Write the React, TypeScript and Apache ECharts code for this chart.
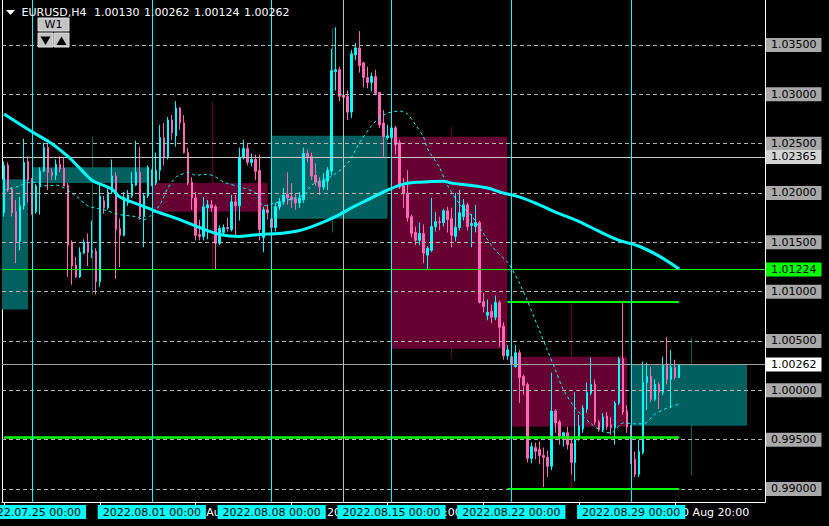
import React, { useEffect, useRef } from "react";
import * as echarts from "echarts";

const FONT = "DejaVu Sans";
const BULL = "#00ffff";
const BEAR = "#ff69b4";
const WEEK_BULL = "#006060";
const WEEK_BEAR = "#660033";
const GRID_GRAY = "#b4b4b4";

const symbolName = "EURUSD,H4";
const firstBarTime = Date.UTC(2022, 6, 21, 20);
const slotCount = 191;
const labelEvery = 24;
const barsPerWeek = 30;
const yMin = 0.98868;
const yMax = 1.03956;

// H4 bars: [open, close, low, high]
const barsWeek0718 = [
  [1.0180, 1.0228, 1.0176, 1.0232], [1.0228, 1.0203, 1.0201, 1.0231], [1.0204, 1.0180, 1.0176, 1.0206],
  [1.0181, 1.0151, 1.0129, 1.0193], [1.0151, 1.0187, 1.0142, 1.0196], [1.0187, 1.0231, 1.0183, 1.0255],
  [1.0232, 1.0213, 1.0190, 1.0237],
];
const barsWeek0725 = [
  [1.0210, 1.0181, 1.0178, 1.0215], [1.0181, 1.0207, 1.0179, 1.0209], [1.0206, 1.0222, 1.0178, 1.0226],
  [1.0222, 1.0246, 1.0221, 1.0251], [1.0246, 1.0221, 1.0203, 1.0251], [1.0221, 1.0218, 1.0213, 1.0225],
  [1.0218, 1.0229, 1.0213, 1.0234], [1.0229, 1.0224, 1.0221, 1.0237], [1.0225, 1.0207, 1.0207, 1.0236],
  [1.0208, 1.0147, 1.0115, 1.0210], [1.0149, 1.0126, 1.0107, 1.0152], [1.0127, 1.0115, 1.0114, 1.0135],
  [1.0115, 1.0140, 1.0114, 1.0145], [1.0139, 1.0150, 1.0138, 1.0153], [1.0150, 1.0140, 1.0126, 1.0159],
  [1.0140, 1.0141, 1.0134, 1.0172], [1.0141, 1.0110, 1.0097, 1.0144], [1.0110, 1.0197, 1.0105, 1.0210],
  [1.0192, 1.0185, 1.0179, 1.0197], [1.0185, 1.0201, 1.0183, 1.0206], [1.0201, 1.0217, 1.0199, 1.0234],
  [1.0217, 1.0163, 1.0113, 1.0221], [1.0164, 1.0157, 1.0125, 1.0174], [1.0157, 1.0196, 1.0156, 1.0201],
  [1.0190, 1.0198, 1.0187, 1.0203], [1.0197, 1.0209, 1.0195, 1.0221], [1.0208, 1.0221, 1.0207, 1.0253],
  [1.0221, 1.0176, 1.0173, 1.0247], [1.0176, 1.0197, 1.0145, 1.0200], [1.0197, 1.0226, 1.0195, 1.0228],
];
const barsWeek0801 = [
  [1.0209, 1.0220, 1.0207, 1.0224], [1.0210, 1.0223, 1.0208, 1.0241], [1.0223, 1.0256, 1.0213, 1.0269],
  [1.0256, 1.0236, 1.0228, 1.0271], [1.0236, 1.0274, 1.0234, 1.0277], [1.0274, 1.0261, 1.0254, 1.0279],
  [1.0258, 1.0286, 1.0247, 1.0293], [1.0286, 1.0271, 1.0264, 1.0287], [1.0271, 1.0241, 1.0240, 1.0279],
  [1.0241, 1.0210, 1.0208, 1.0246], [1.0211, 1.0195, 1.0183, 1.0216], [1.0195, 1.0157, 1.0152, 1.0201],
  [1.0158, 1.0156, 1.0152, 1.0173], [1.0156, 1.0186, 1.0152, 1.0196], [1.0185, 1.0188, 1.0153, 1.0193],
  [1.0188, 1.0185, 1.0181, 1.0193], [1.0186, 1.0149, 1.0122, 1.0188], [1.0149, 1.0164, 1.0147, 1.0167],
  [1.0160, 1.0165, 1.0158, 1.0168], [1.0165, 1.0164, 1.0161, 1.0175], [1.0163, 1.0191, 1.0161, 1.0198],
  [1.0191, 1.0187, 1.0157, 1.0198], [1.0187, 1.0236, 1.0172, 1.0246], [1.0236, 1.0245, 1.0234, 1.0254],
  [1.0245, 1.0231, 1.0228, 1.0251], [1.0231, 1.0234, 1.0227, 1.0240], [1.0234, 1.0222, 1.0213, 1.0239],
  [1.0223, 1.0163, 1.0152, 1.0239], [1.0155, 1.0183, 1.0140, 1.0186], [1.0183, 1.0180, 1.0173, 1.0188],
];
const barsWeek0808 = [
  [1.0174, 1.0165, 1.0158, 1.0183], [1.0165, 1.0186, 1.0161, 1.0190], [1.0186, 1.0191, 1.0183, 1.0195],
  [1.0191, 1.0198, 1.0188, 1.0205], [1.0199, 1.0195, 1.0188, 1.0221], [1.0196, 1.0193, 1.0185, 1.0210],
  [1.0194, 1.0190, 1.0183, 1.0200], [1.0190, 1.0195, 1.0185, 1.0201], [1.0193, 1.0240, 1.0190, 1.0246],
  [1.0240, 1.0237, 1.0231, 1.0244], [1.0237, 1.0217, 1.0213, 1.0241], [1.0218, 1.0211, 1.0207, 1.0230],
  [1.0212, 1.0206, 1.0198, 1.0216], [1.0206, 1.0213, 1.0203, 1.0220], [1.0212, 1.0223, 1.0203, 1.0226],
  [1.0222, 1.0324, 1.0218, 1.0346], [1.0323, 1.0325, 1.0304, 1.0368], [1.0325, 1.0298, 1.0293, 1.0328],
  [1.0299, 1.0297, 1.0294, 1.0304], [1.0298, 1.0282, 1.0274, 1.0304], [1.0282, 1.0341, 1.0276, 1.0345],
  [1.0340, 1.0347, 1.0335, 1.0352], [1.0347, 1.0329, 1.0322, 1.0364], [1.0332, 1.0317, 1.0307, 1.0333],
  [1.0317, 1.0312, 1.0306, 1.0328], [1.0312, 1.0318, 1.0303, 1.0322], [1.0318, 1.0301, 1.0299, 1.0325],
  [1.0302, 1.0269, 1.0266, 1.0302], [1.0271, 1.0257, 1.0237, 1.0284], [1.0256, 1.0258, 1.0254, 1.0269],
];
const barsWeek0815 = [
  [1.0256, 1.0266, 1.0254, 1.0268], [1.0266, 1.0249, 1.0239, 1.0268], [1.0251, 1.0206, 1.0204, 1.0254],
  [1.0207, 1.0200, 1.0185, 1.0215], [1.0200, 1.0175, 1.0171, 1.0223], [1.0176, 1.0159, 1.0155, 1.0178],
  [1.0160, 1.0152, 1.0147, 1.0166], [1.0152, 1.0159, 1.0147, 1.0170], [1.0159, 1.0139, 1.0129, 1.0168],
  [1.0137, 1.0144, 1.0122, 1.0146], [1.0142, 1.0166, 1.0140, 1.0195], [1.0166, 1.0171, 1.0161, 1.0181],
  [1.0171, 1.0170, 1.0162, 1.0176], [1.0170, 1.0182, 1.0166, 1.0184], [1.0182, 1.0173, 1.0160, 1.0186],
  [1.0174, 1.0157, 1.0145, 1.0185], [1.0156, 1.0165, 1.0151, 1.0200], [1.0165, 1.0180, 1.0162, 1.0203],
  [1.0176, 1.0188, 1.0172, 1.0194], [1.0188, 1.0166, 1.0162, 1.0190], [1.0167, 1.0169, 1.0145, 1.0179],
  [1.0166, 1.0170, 1.0160, 1.0188], [1.0170, 1.0089, 1.0088, 1.0172], [1.0090, 1.0085, 1.0079, 1.0099],
  [1.0076, 1.0079, 1.0071, 1.0092], [1.0080, 1.0074, 1.0068, 1.0087], [1.0074, 1.0089, 1.0071, 1.0096],
  [1.0089, 1.0064, 1.0044, 1.0091], [1.0065, 1.0035, 1.0031, 1.0069], [1.0035, 1.0041, 1.0031, 1.0046],
];
const barsWeek0822 = [
  [1.0034, 1.0026, 1.0021, 1.0035], [1.0024, 1.0038, 1.0023, 1.0046], [1.0038, 1.0013, 0.9987, 1.0041],
  [1.0014, 1.0005, 0.9995, 1.0016], [1.0006, 0.9931, 0.9927, 1.0008], [0.9931, 0.9943, 0.9926, 0.9947],
  [0.9942, 0.9938, 0.9930, 0.9947], [0.9940, 0.9934, 0.9925, 0.9948], [0.9934, 0.9932, 0.9902, 0.9942],
  [0.9932, 0.9923, 0.9912, 0.9939], [0.9923, 0.9979, 0.9919, 1.0018], [0.9979, 0.9967, 0.9957, 0.9981],
  [0.9968, 0.9953, 0.9945, 0.9970], [0.9953, 0.9957, 0.9943, 0.9958], [0.9957, 0.9945, 0.9940, 0.9963],
  [0.9946, 0.9927, 0.9915, 0.9952], [0.9927, 0.9950, 0.9908, 0.9998], [0.9953, 0.9964, 0.9949, 0.9975],
  [0.9961, 0.9982, 0.9957, 0.9985], [0.9981, 0.9998, 0.9977, 1.0008], [0.9997, 1.0006, 0.9995, 1.0033],
  [1.0006, 0.9968, 0.9965, 1.0011], [0.9968, 0.9960, 0.9958, 0.9970], [0.9960, 0.9973, 0.9958, 0.9977],
  [0.9974, 0.9963, 0.9960, 0.9978], [0.9965, 0.9962, 0.9955, 0.9973], [0.9962, 0.9987, 0.9945, 0.9989],
  [0.9987, 1.0032, 0.9985, 1.0034], [1.0032, 0.9978, 0.9975, 1.0089], [0.9979, 0.9963, 0.9957, 0.9985],
];
const barsWeek0829 = [
  [0.9963, 0.9929, 0.9925, 0.9965], [0.9930, 0.9915, 0.9912, 0.9938], [0.9915, 0.9938, 0.9912, 0.9950],
  [0.9937, 1.0008, 0.9935, 1.0029], [1.0008, 1.0014, 0.9980, 1.0028], [1.0014, 0.9991, 0.9988, 1.0024],
  [0.9991, 1.0006, 0.9989, 1.0011], [1.0006, 0.9998, 0.9981, 1.0008], [0.9998, 1.0025, 0.9995, 1.0034],
  [1.0025, 1.0011, 1.0006, 1.0054], [1.0011, 1.0023, 0.9982, 1.0041], [1.0023, 1.0013, 1.0011, 1.0031],
  [1.0013, 1.00262, 1.00124, 1.00262],
];

// W1 overlay bars: [open, close, low, high]
const weekNames = ["2022.07.18", "2022.07.25", "2022.08.01", "2022.08.08", "2022.08.15", "2022.08.22", "2022.08.29"];
const weekBars = [
  [1.0082, 1.0214, 1.0060, 1.0245],
  [1.0210, 1.0226, 1.0097, 1.0257],
  [1.0210, 1.0181, 1.0122, 1.0293],
  [1.0174, 1.0258, 1.0160, 1.0367],
  [1.0257, 1.0042, 1.0033, 1.0267],
  [1.0034, 0.9963, 0.9900, 1.0089],
  [0.9964, 1.00262, 0.9914, 1.0053],
];

// moving averages: bar index / value
const maSlowIdx = [0, 7, 12, 16, 19, 22, 27, 29, 34, 39, 44, 49, 54, 59, 64, 69, 74, 79, 83, 87, 92, 96, 100, 104, 110, 112, 116, 121, 125, 129, 134, 139, 144, 149, 154, 159, 164, 169];
const maSlowVal = [1.0280, 1.0262, 1.0250, 1.0237, 1.0225, 1.0213, 1.0204, 1.0196, 1.0188, 1.0180, 1.0173, 1.0165, 1.0158, 1.0156, 1.0158, 1.0159, 1.0162, 1.0169, 1.0176, 1.0185, 1.0195, 1.0203, 1.0209, 1.0211, 1.0212, 1.0210, 1.0208, 1.0205, 1.0200, 1.0196, 1.0188, 1.0179, 1.0171, 1.0161, 1.0152, 1.0146, 1.0136, 1.0123];
const maFastIdx = [0, 3, 7, 11, 13, 18, 21, 25, 29, 33, 35, 37, 39, 40, 41, 43, 44, 46, 48, 51, 53, 55, 60, 63, 65, 67, 75, 77, 82, 86, 89, 92, 94, 96, 99, 101, 103, 105, 106, 109, 111, 114, 117, 120, 123, 126, 127, 129, 131, 134, 136, 138, 140, 143, 147, 150, 152, 155, 158, 160, 163, 166, 169];
const maFastVal = [1.0203, 1.0206, 1.0211, 1.0207, 1.0208, 1.0197, 1.0187, 1.0183, 1.0178, 1.0176, 1.0173, 1.0178, 1.0188, 1.0196, 1.0205, 1.0216, 1.0218, 1.0221, 1.0218, 1.0219, 1.0216, 1.0211, 1.0205, 1.0200, 1.0187, 1.0189, 1.0198, 1.0208, 1.0217, 1.0230, 1.0251, 1.0268, 1.0276, 1.0281, 1.0283, 1.0280, 1.0269, 1.0257, 1.0245, 1.0226, 1.0208, 1.0189, 1.0177, 1.0159, 1.0142, 1.0130, 1.0124, 1.0109, 1.0091, 1.0061, 1.0041, 1.0021, 1.0001, 0.9982, 0.9966, 0.9958, 0.9957, 0.9967, 0.9966, 0.9966, 0.9976, 0.9982, 0.9986];

// price levels
const gridLevels = [1.035, 1.03, 1.025, 1.02, 1.015, 1.01, 1.005, 1.0, 0.995, 0.99];
const scaleMarks = [1.0353, 1.0303, 1.0254, 1.0205, 1.0155, 1.0105, 1.0055, 1.0006, 0.9956, 0.9907];
const crossPrice = 1.02365;
const crossTime = "2022.08.11 00:00";
const alertPrice = 1.01224;
const supportPrice = 0.9952;
const prevWeekHigh = 1.009;
const prevWeekLow = 0.99;
const levelFrom = "2022.08.19 20:00";

const h4Bars = [...barsWeek0718, ...barsWeek0725, ...barsWeek0801, ...barsWeek0808, ...barsWeek0815, ...barsWeek0822, ...barsWeek0829];
const lastBar = h4Bars[h4Bars.length - 1];
const bidPrice = lastBar[1];

const monthNames = ["Jan", "Feb", "Mar", "Apr", "May", "Jun", "Jul", "Aug", "Sep", "Oct", "Nov", "Dec"];
const pad = (n: number) => (n < 10 ? "0" + n : "" + n);
function buildSlots(): string[] {
  const out: string[] = [];
  let t = firstBarTime;
  while (out.length < slotCount) {
    const d = new Date(t);
    const wd = d.getUTCDay();
    if (wd !== 0 && wd !== 6) {
      out.push(`${d.getUTCFullYear()}.${pad(d.getUTCMonth() + 1)}.${pad(d.getUTCDate())} ${pad(d.getUTCHours())}:00`);
    }
    t += 4 * 3600 * 1000;
  }
  return out;
}
const slots = buildSlots();
const shortLabel = (v: string) => `${parseInt(v.slice(8, 10), 10)} ${monthNames[parseInt(v.slice(5, 7), 10) - 1]} ${v.slice(11)}`;

export default function App() {
  const ref = useRef<HTMLDivElement>(null);
  useEffect(() => {
    if (!ref.current) return;
    const chart = echarts.init(ref.current, null, { renderer: "svg" });

    const gridLeft = 2, gridTop = 0, gridW = 763, gridH = 502;
    const firstWeekStart = slots.indexOf(weekNames[1] + " 00:00");
    const weekStartIdx = weekNames.map((w, k) => (k === 0 ? firstWeekStart - barsPerWeek : slots.indexOf(w + " 00:00")));
    const weekRows = weekBars.map((b, k) => [weekStartIdx[k], b[0], b[1], b[2], b[3]]);
    const weekLines = weekStartIdx.slice(1);

    const textBase = { fontFamily: FONT, fontSize: 11, lineHeight: 12 };
    const boxLabel = (text: string, bg: string) => ({
      show: true, position: "end", distance: 1, formatter: text, color: "#000",
      backgroundColor: bg, padding: [1, 5, 1, 5], ...textBase,
    });

    const lastIdx = h4Bars.length - 1;
    const levelFromIdx = slots.indexOf(levelFrom);
    const crossIdx = slots.indexOf(crossTime);

    const option: any = {
      backgroundColor: "#000",
      animation: false,
      grid: [{ left: gridLeft, top: gridTop, width: gridW, height: gridH, show: false }],
      xAxis: [
        {
          type: "category", data: slots, boundaryGap: true,
          axisLine: { show: true, lineStyle: { color: "#fff", width: 1 } },
          axisTick: { show: true, alignWithLabel: true, length: 3, interval: (i: number) => i % labelEvery === 0, lineStyle: { color: "#fff" } },
          axisLabel: {
            show: true, interval: (i: number) => i % labelEvery === 0, align: "left", margin: 5,
            color: "#fff", fontFamily: FONT, fontSize: 11, formatter: (v: string) => shortLabel(v),
          },
          splitLine: { show: false },
        },
      ],
      yAxis: [
        {
          type: "value", position: "right", min: yMin, max: yMax,
          axisLine: { show: true, lineStyle: { color: "#fff", width: 1 } },
          axisTick: { show: false }, axisLabel: { show: false }, splitLine: { show: false },
        },
        {
          type: "value", position: "left", min: yMin, max: yMax,
          axisLine: { show: true, lineStyle: { color: "#fff", width: 1 } },
          axisTick: { show: false }, axisLabel: { show: false }, splitLine: { show: false },
        },
      ],
      series: [
        {
          type: "custom", xAxisIndex: 0, yAxisIndex: 0, z: 1, clip: true, silent: true,
          data: weekRows, encode: { x: 0, y: [1, 2, 3, 4] },
          renderItem: (params: any, api: any) => {
            const s = api.value(0), o = api.value(1), c = api.value(2), l = api.value(3), h = api.value(4);
            const xa = api.coord([s, o])[0];
            const xb = api.coord([s + barsPerWeek - 1, o])[0];
            const xm = (xa + api.coord([s + barsPerWeek, o])[0]) / 2;
            const yo = api.coord([s, o])[1], yc = api.coord([s, c])[1];
            const yl = api.coord([s, l])[1], yh = api.coord([s, h])[1];
            const color = c >= o ? WEEK_BULL : WEEK_BEAR;
            return {
              type: "group",
              children: [
                { type: "line", shape: { x1: Math.round(xm) + 0.5, y1: yh, x2: Math.round(xm) + 0.5, y2: yl }, style: { stroke: color, lineWidth: 1 } },
                { type: "rect", shape: { x: xa, y: Math.min(yo, yc), width: xb - xa, height: Math.max(1, Math.abs(yo - yc)) }, style: { fill: color } },
              ],
            };
          },
        },
        {
          type: "line", xAxisIndex: 0, yAxisIndex: 0, z: 2, data: [], clip: false, silent: true,
          markLine: {
            silent: true, symbol: ["none", "none"], animation: false, precision: 6, label: { show: false },
            data: scaleMarks.map((v) => ({
              yAxis: v, lineStyle: { opacity: 0, width: 0 },
              label: { show: true, position: "end", distance: 6, formatter: v.toFixed(5), color: "#fff", ...textBase },
            })),
          },
        },
        {
          type: "line", xAxisIndex: 0, yAxisIndex: 0, z: 3, data: [], clip: false, silent: true,
          markLine: {
            silent: true, symbol: ["none", "none"], animation: false, precision: 6, label: { show: false },
            data: gridLevels.map((v) => ({
              yAxis: v, lineStyle: { color: GRID_GRAY, type: [4, 3], width: 1 },
              label: boxLabel(v.toFixed(5), "#a9a9a9"),
            })),
          },
        },
        {
          type: "candlestick", xAxisIndex: 0, yAxisIndex: 0, z: 4, barWidth: 2, data: h4Bars,
          itemStyle: { color: BULL, color0: BEAR, borderColor: BULL, borderColor0: BEAR, borderWidth: 1 },
          silent: true,
        },
        {
          type: "line", xAxisIndex: 0, yAxisIndex: 0, z: 5, showSymbol: false, symbol: "none", smooth: 0.35,
          data: maSlowIdx.map((i, k) => [i, maSlowVal[k]]),
          lineStyle: { color: BULL, width: 3 }, silent: true,
        },
        {
          type: "line", xAxisIndex: 0, yAxisIndex: 0, z: 5, showSymbol: false, symbol: "none", smooth: 0.3,
          data: maFastIdx.map((i, k) => [i, maFastVal[k]]),
          lineStyle: { color: BULL, width: 1, type: [3, 3] }, silent: true,
        },
        {
          type: "line", xAxisIndex: 0, yAxisIndex: 0, z: 6, data: [], clip: false, silent: true,
          markLine: {
            silent: true, symbol: ["none", "none"], animation: false, precision: 6, label: { show: false },
            data: [
              { yAxis: crossPrice, lineStyle: { color: "#c8c8c8", type: "solid", width: 1 }, label: boxLabel(crossPrice.toFixed(5), "#d4d4d4") },
              { yAxis: alertPrice, lineStyle: { color: "#00ff00", type: "solid", width: 1 }, label: boxLabel(alertPrice.toFixed(5), "#00ff00") },
              { yAxis: bidPrice, lineStyle: { color: "#a0a0a0", type: "solid", width: 1 }, label: boxLabel(bidPrice.toFixed(5), "#ffffff") },
              [
                { coord: [0, supportPrice], lineStyle: { color: "#00ff00", type: "solid", width: 2.5 }, label: { show: false } },
                { coord: [lastIdx, supportPrice] },
              ],
              [
                { coord: [levelFromIdx, prevWeekHigh], lineStyle: { color: "#00ff00", type: "solid", width: 2 }, label: { show: false } },
                { coord: [lastIdx, prevWeekHigh] },
              ],
              [
                { coord: [levelFromIdx, prevWeekLow], lineStyle: { color: "#00ff00", type: "solid", width: 2 }, label: { show: false } },
                { coord: [lastIdx, prevWeekLow] },
              ],
              { xAxis: crossIdx, lineStyle: { color: "#c0c0c0", type: "solid", width: 1 }, label: { show: false } },
              ...weekLines.map((idx) => ({
                xAxis: idx, lineStyle: { color: BULL, type: "solid", width: 1 },
                label: {
                  show: true, position: "start", distance: 3, formatter: slots[idx], color: "#000",
                  backgroundColor: BULL, padding: [1, 5, 1, 5], ...textBase,
                },
              })),
            ],
          },
        },
      ],
      graphic: [
        { type: "polygon", z: 100, shape: { points: [[6, 10], [15, 10], [10.5, 15]] }, style: { fill: "#fff" } },
        { type: "text", z: 100, x: 21.5, y: 12, style: { text: symbolName, fill: "#fff", fontFamily: FONT, fontSize: 11, verticalAlign: "middle", align: "left" } },
        ...[lastBar[0], lastBar[3], lastBar[2], lastBar[1]].map((v, k) => ({
          type: "text", z: 100, x: 94 + 50 * k, y: 12,
          style: { text: v.toFixed(5), fill: "#fff", fontFamily: FONT, fontSize: 11, verticalAlign: "middle", align: "left" },
        })),
        { type: "rect", z: 100, shape: { x: 38, y: 18, width: 31, height: 13 }, style: { fill: "#c4c4c4", stroke: "#e0e0e0", lineWidth: 1 } },
        { type: "text", z: 101, x: 53.5, y: 24.5, style: { text: "W1", fill: "#000", fontFamily: FONT, fontSize: 11, verticalAlign: "middle", align: "center" } },
        { type: "rect", z: 100, shape: { x: 38, y: 33, width: 15, height: 14 }, style: { fill: "#c4c4c4", stroke: "#e0e0e0", lineWidth: 1 } },
        { type: "rect", z: 100, shape: { x: 54, y: 33, width: 15, height: 14 }, style: { fill: "#c4c4c4", stroke: "#e0e0e0", lineWidth: 1 } },
        { type: "polygon", z: 101, shape: { points: [[40.5, 36.5], [50.5, 36.5], [45.5, 45]] }, style: { fill: "#000" } },
        { type: "polygon", z: 101, shape: { points: [[56.5, 45], [66.5, 45], [61.5, 36.5]] }, style: { fill: "#000" } },
      ],
    };

    chart.setOption(option);
    return () => chart.dispose();
  }, []);

  return (
    <div
      ref={ref}
      style={{ position: "fixed", left: 0, top: 0, width: 829, height: 526, background: "#000" }}
    />
  );
}
